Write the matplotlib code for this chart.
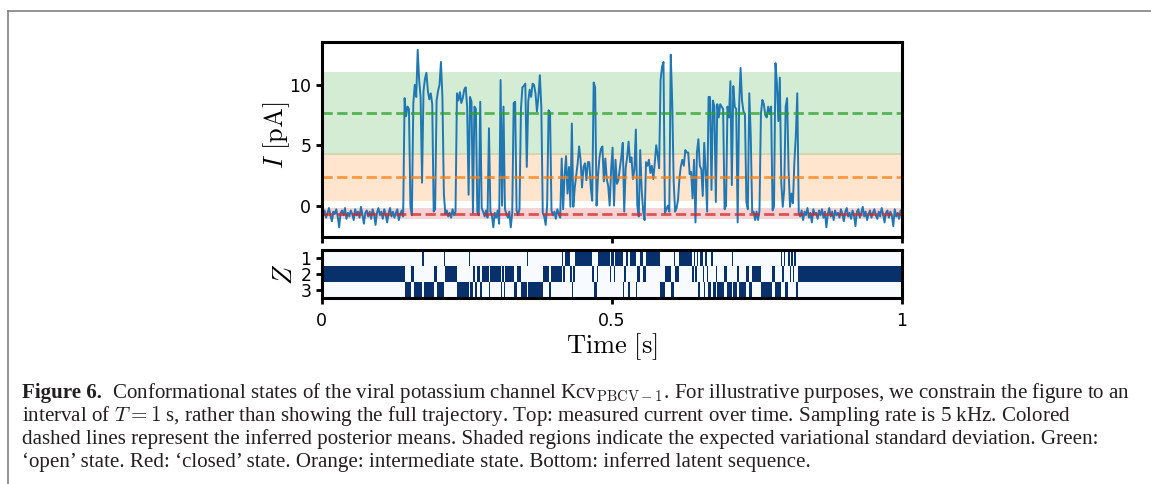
import numpy as np
import matplotlib.pyplot as plt
from matplotlib.lines import Line2D

plt.rcParams['mathtext.fontset'] = 'cm'

# measured current [pA], one value every 2.5 ms over T = 1 s
current = [
    -0.5, -0.9, -0.4, -1.0, -0.6, -0.2, -0.8, -1.3, -0.5, -0.7, -0.3, -0.9, -1.8, -0.6, -0.4, -0.8, -0.2, -1.1, -0.6, -0.9,
    -0.4, -0.7, -1.2, -0.3, -0.8, -0.5, -1.0, -0.1, -0.7, -1.5, -0.6, -0.4, -0.9, -0.5, -1.1, -0.3, -0.7, -1.6, -0.6, -0.2,
    -0.8, -0.5, -1.1, -0.3, -0.7, -1.4, -0.6, -0.2, -0.9, -0.5, -1.0, -0.6, -0.3, -1.2, -0.7, -0.4, -0.9, 8.9, 7.4, 8.2,
    8.0, -0.1, -0.8, 8.5, 10.0, 9.0, 12.9, 10.4, 9.0, 1.9, 9.5, 10.5, 11.0, 9.5, 8.8, 9.3, 8.4, -0.5, -0.3, 8.7,
    9.5, 10.0, 11.9, 9.0, 1.0, -0.7, -0.4, -0.9, -0.6, -1.0, -0.3, -0.8, -0.5, 9.3, 8.7, 9.4, 8.5, 8.9, 9.6, 9.8,
    8.2, 0.9, 9.0, 8.6, -0.6, 8.2, 8.0, -0.5, -0.8, 8.6, -0.2, -0.5, -0.9, -0.4, -1.0, 6.4, -0.5, -0.8, -1.8, -0.6,
    -1.0, -0.4, -1.5, 10.4, 0.0, 8.2, -0.3, -0.7, -1.0, -0.5, -1.8, -0.6, 8.5, 8.6, -0.4, -0.8, -0.3, 8.0, 9.8, 9.9,
    10.1, 3.2, 8.6, 9.6, 9.0, 10.1, 10.0, 9.3, 7.8, 9.0, 10.8, 8.2, -0.6, -0.9, -1.6, 0.0, 7.9, 7.7, -0.4, -0.8,
    -0.5, -1.1, -0.3, -0.7, -1.0, 3.9, -0.3, 2.5, 4.1, 1.0, 3.2, -0.1, 6.8, -0.1, 1.5, 2.5, 3.5, 4.9, 3.8, 1.5,
    3.2, 3.5, 2.1, 3.6, 3.6, 1.5, 0.4, 10.2, 9.8, 0.0, 2.5, 4.0, 4.7, 4.9, 2.0, 3.9, 2.2, 1.6, 0.0, 3.0,
    4.8, 0.0, 3.8, 1.8, 2.1, 3.1, 4.0, 5.2, -0.5, 3.1, 4.0, 5.3, 3.6, 4.0, 2.2, 3.0, 6.3, 0.0, -0.9, 4.6,
    1.3, -0.4, -1.2, 3.6, 3.3, 3.8, 2.7, 3.3, 2.2, 3.5, 5.0, 4.2, 3.1, 10.4, 11.5, 11.9, -0.6, -0.3, 0.0, -0.5,
    12.5, 8.6, 2.0, -0.5, -0.2, 0.5, 2.3, 3.3, 3.8, 3.3, 4.6, 4.4, 4.4, 2.6, 2.8, 0.6, 3.8, -1.4, 4.4, 5.5,
    3.3, 3.0, 0.8, 5.2, 2.8, -0.5, 9.0, 9.0, 1.3, 8.7, 8.2, 0.3, 8.4, 7.3, 8.4, 8.2, 8.0, -0.3, 0.0, 8.2,
    7.3, 10.3, 1.7, 9.9, 8.2, 8.0, -1.4, 8.2, 11.4, 8.7, 7.8, 7.6, 0.3, -0.3, 9.3, 5.8, -0.6, -0.5, -1.2, -0.5,
    -1.2, -0.4, 7.6, 8.75, 8.4, 7.5, 7.3, 8.2, 7.6, 8.2, -0.4, -0.1, 11.8, 10.1, 7.0, 10.6, 1.9, -0.1, 1.3, 8.2,
    8.9, 3.0, -0.1, 1.0, 0.2, 3.6, 5.8, 9.3, -0.6, -0.9, -0.4, -1.2, -0.5, -0.8, -0.2, -1.0, -0.6, -1.4, -0.3, -0.7,
    -0.6, -1.1, -0.4, -0.8, -0.3, -1.0, -0.5, -1.8, -0.7, -0.2, -0.9, -0.5, -1.2, -0.4, -0.8, -0.6, -1.0, -0.3, -0.7, -1.3,
    -0.5, -0.2, -0.9, -0.6, -1.1, -0.4, -0.8, -1.7, -0.5, -0.3, -1.0, -0.6, -0.1, -0.9, -0.5, -1.2, -0.7, -0.4, -1.0, -0.6,
    -0.3, -0.8, -1.1, -0.5, -0.9, -0.2, -0.7, -1.4, -0.6, -0.4, -1.0, -0.5, -0.8, -1.7, -0.3, -0.9, -0.6, -1.1, -0.4, -0.7,
]

# posterior means / std of the three states, in the row order of Z (1, 2, 3)
state_means = [2.35, -0.66, 7.65]    # intermediate, closed, open
state_sds = [2.0, 0.48, 3.45]
state_colors = ['tab:orange', 'tab:red', 'tab:green']
z_labels = ['1', '2', '3']
x_ticks = [0, 0.5, 1]
x_ticklabels = ['0', '0.5', '1']
y_ticks = [0, 5, 10]

caption = [
    r'Conformational states of the viral potassium channel Kcv$_{\mathrm{PBCV}-1}$. For illustrative purposes, we constrain the figure to an',
    r'interval of $T=1$ s, rather than showing the full trajectory. Top: measured current over time. Sampling rate is 5 kHz. Colored',
    'dashed lines represent the inferred posterior means. Shaded regions indicate the expected variational standard deviation. Green:',
    '\u2018open\u2019 state. Red: \u2018closed\u2019 state. Orange: intermediate state. Bottom: inferred latent sequence.',
]

W, H = 1151, 484
fig = plt.figure(figsize=(W / 100, H / 100), dpi=100)

cur = np.array(current)
t = np.linspace(0, 1, len(cur))

# top panel: current trace
ax = fig.add_axes([321.7 / W, 1 - 237 / H, 580.3 / W, 195 / H])
for m, s, c in zip(state_means, state_sds, state_colors):
    ax.axhspan(m - s, m + s, color=c, alpha=0.2, lw=0)
ax.plot(t, cur, color='tab:blue', lw=1.4)
for m, c in zip(state_means, state_colors):
    ax.axhline(m, color=c, ls='--', lw=2, alpha=0.75)
ax.set_xlim(0, 1)
ax.set_ylim(-2.6, 13.55)
ax.set_yticks(y_ticks)
ax.set_xticks(x_ticks)
ax.set_xticklabels([])
ax.set_ylabel(r'$I\ [\mathrm{pA}]$', fontsize=19)
ax.yaxis.set_label_coords(-0.052, 0.52)

# bottom panel: latent sequence
means = np.array(state_means)
z = np.argmin(np.abs(cur[None, :] - means[:, None]), axis=0)
Z = np.zeros((3, len(cur)))
Z[z, np.arange(len(cur))] = 1
bx = fig.add_axes([321.7 / W, 1 - 298 / H, 580.3 / W, 48 / H])
bx.imshow(Z, cmap='Blues', aspect='auto', extent=[0, 1, 3.5, 0.5],
          interpolation='nearest', vmin=0, vmax=1)
bx.set_yticks([1, 2, 3])
bx.set_yticklabels(z_labels)
bx.set_xticks(x_ticks)
bx.set_xticklabels(x_ticklabels)
bx.set_ylabel(r'$Z$', fontsize=19, labelpad=2)
bx.set_xlabel(r'$\mathrm{Time\ [s]}$', fontsize=19, labelpad=1)

for a in (ax, bx):
    for sp in a.spines.values():
        sp.set_linewidth(2.2)
    a.tick_params(width=2, length=4, labelsize=12.5)
bx.tick_params(axis='x', pad=6)

# frame around the figure block
fig.add_artist(Line2D([8 / W, 1], [1 - 11 / H] * 2, transform=fig.transFigure,
                      color='#808080', lw=1.2))
fig.add_artist(Line2D([8 / W] * 2, [0, 1 - 11 / H], transform=fig.transFigure,
                      color='#808080', lw=1.2))

# caption
cap_font = dict(family='Liberation Serif', fontsize=15.1, color='#231f20')
head = fig.text(22 / W, 1 - 398 / H, 'Figure 6.', fontweight='bold', va='baseline', **cap_font)
r = fig.canvas.get_renderer()
hx = head.get_window_extent(r).x1
fig.text((hx + 10) / W, 1 - 398 / H, caption[0], va='baseline', **cap_font)
for i, line in enumerate(caption[1:]):
    fig.text(22 / W, 1 - (398 + 23 * (i + 1)) / H, line, va='baseline', **cap_font)

fig.savefig('out.png', dpi=100)
